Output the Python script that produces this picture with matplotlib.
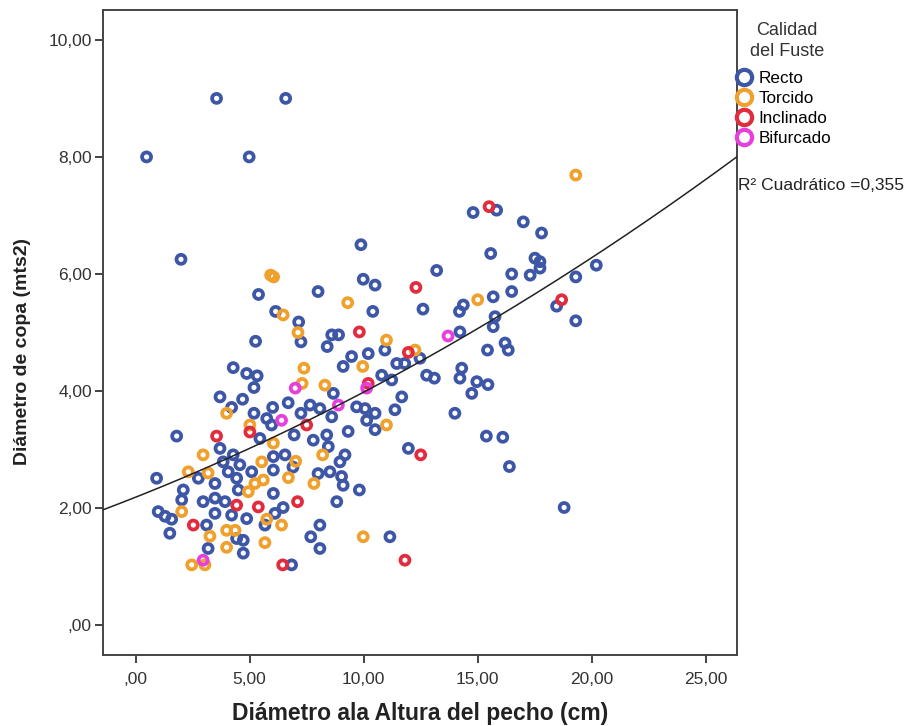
import numpy as np
import matplotlib
matplotlib.use("Agg")
import matplotlib.pyplot as plt
from matplotlib.lines import Line2D
from matplotlib.ticker import FuncFormatter

plt.rcParams["font.family"] = ["Liberation Sans", "DejaVu Sans"]

# Calidad del Fuste -> (DAP cm, diametro de copa)
recto_x = [3.55, 6.58, 0.48, 4.98, 1.99, 5.39, 6.14, 7.15, 7.25, 5.26, 4.28, 4.87, 5.33, 5.19,
           3.70, 4.69, 4.21, 5.19, 6.01, 6.69, 5.75, 7.25, 1.80, 5.96, 5.45, 6.95, 3.70, 4.28,
           3.84, 4.57, 6.04, 6.55, 0.92, 2.75, 3.48, 4.06, 4.43, 5.09, 6.04, 6.90, 2.09, 4.50,
           6.04, 2.02, 2.96, 3.48, 3.92, 0.99, 1.29, 1.58, 3.48, 4.21, 4.87, 6.11, 6.47, 1.50,
           3.11, 4.43, 4.72, 5.67, 3.18, 4.72, 6.84,
           9.88, 15.57, 13.20, 9.98, 10.50, 8.00, 10.40, 12.60, 14.37, 14.20, 8.60, 8.90, 8.40,
           10.93, 10.20, 9.47, 9.10, 12.47, 11.45, 11.80, 14.22, 15.43, 8.67, 10.79, 11.23,
           11.67, 12.76, 13.10, 14.30, 14.22, 14.96, 15.45, 14.74, 9.69, 10.06, 10.50, 11.37,
           10.13, 10.50, 14.00, 7.65, 8.08, 8.60, 9.32, 8.38, 15.38,
           7.79, 8.45, 9.18, 8.96, 11.96, 8.00, 8.52, 9.03, 9.10, 9.81, 8.82, 8.08, 7.68, 8.08,
           11.15,
           15.83, 17.00, 17.80, 17.51, 17.73, 17.73, 17.30, 16.49, 20.20, 19.30, 16.49, 15.68,
           18.46, 15.76, 15.68, 19.30, 16.20, 16.34, 14.80, 16.10, 16.39, 18.79]
recto_y = [9.00, 9.00, 8.00, 8.00, 6.25, 5.65, 5.36, 5.18, 4.84, 4.85, 4.40, 4.30, 4.26, 4.06,
           3.90, 3.86, 3.72, 3.62, 3.72, 3.80, 3.53, 3.62, 3.23, 3.42, 3.19, 3.25, 3.02, 2.91,
           2.79, 2.74, 2.88, 2.91, 2.51, 2.51, 2.42, 2.62, 2.51, 2.62, 2.65, 2.70, 2.31, 2.31,
           2.25, 2.14, 2.11, 2.17, 2.11, 1.94, 1.86, 1.81, 1.91, 1.88, 1.82, 1.91, 2.01, 1.57,
           1.71, 1.48, 1.45, 1.71, 1.31, 1.23, 1.03,
           6.50, 6.35, 6.06, 5.91, 5.81, 5.70, 5.36, 5.40, 5.47, 5.36, 4.96, 4.96, 4.76,
           4.70, 4.64, 4.59, 4.42, 4.56, 4.47, 4.47, 5.01, 4.70, 3.96, 4.27, 4.19,
           3.90, 4.27, 4.22, 4.39, 4.22, 4.16, 4.11, 3.96, 3.73, 3.70, 3.62, 3.68,
           3.50, 3.34, 3.62, 3.76, 3.70, 3.56, 3.31, 3.25, 3.23,
           3.16, 3.05, 2.91, 2.79, 3.02, 2.59, 2.62, 2.54, 2.39, 2.31, 2.11, 1.71, 1.51, 1.31,
           1.51,
           7.09, 6.89, 6.70, 6.27, 6.21, 6.10, 5.98, 6.00, 6.15, 5.95, 5.70, 5.61,
           5.45, 5.27, 5.10, 5.20, 4.82, 4.70, 7.05, 3.21, 2.71, 2.01]

torcido_x = [5.92, 6.05, 6.47, 7.12, 3.99, 5.01, 7.30, 6.04, 2.96, 5.53, 7.02, 2.31, 3.18, 5.23,
             5.60, 6.70, 4.94, 2.02, 5.75, 3.26, 3.99, 4.36, 6.40, 3.99, 5.67, 2.46, 3.04,
             9.30, 15.00, 11.00, 9.96, 12.25, 7.38, 8.30, 11.00, 8.20, 7.82, 9.98, 19.30]
torcido_y = [5.98, 5.95, 5.30, 5.00, 3.62, 3.42, 4.13, 3.11, 2.91, 2.79, 2.80, 2.62, 2.60, 2.42,
             2.48, 2.52, 2.28, 1.94, 1.81, 1.52, 1.62, 1.62, 1.71, 1.33, 1.41, 1.03, 1.03,
             5.51, 5.56, 4.87, 4.42, 4.70, 4.39, 4.10, 3.42, 2.91, 2.42, 1.51, 7.69]

inclinado_x = [3.55, 5.01, 4.43, 5.38, 7.10, 2.53, 6.45, 12.29, 9.81, 11.96, 10.20, 7.50,
               12.50, 11.81, 15.50, 18.68]
inclinado_y = [3.23, 3.30, 2.05, 2.02, 2.11, 1.71, 1.03, 5.77, 5.01, 4.66, 4.13, 3.42,
               2.91, 1.11, 7.15, 5.56]

bifurcado_x = [7.00, 6.40, 2.96, 13.70, 10.13, 8.89]
bifurcado_y = [4.05, 3.50, 1.11, 4.94, 4.05, 3.76]

groups = ["Recto", "Torcido", "Inclinado", "Bifurcado"]
colors = ["#3d57a6", "#f0a02c", "#e22b3c", "#e63fdc"]
series = [(recto_x, recto_y), (torcido_x, torcido_y),
          (inclinado_x, inclinado_y), (bifurcado_x, bifurcado_y)]

# quadratic fit as reported (c, b, a)
fit_coef = [0.00251, 0.1544, 2.186]
r2_label = "R² Cuadrático =0,355"

fig = plt.figure(figsize=(9.07, 7.26), dpi=100)
ax = fig.add_axes([103 / 907, 1 - 655 / 726, 634 / 907, 645 / 726])

for (xs, ys), c in zip(series, colors):
    ax.scatter(xs, ys, s=42, facecolors="none", edgecolors=c, linewidths=2.7, zorder=2)

xx = np.linspace(-1.43, 26.37, 200)
ax.plot(xx, np.polyval(fit_coef, xx), color="#222222", lw=1.1, zorder=3)

ax.set_xlim(-1.43, 26.37)
ax.set_ylim(-0.51, 10.51)
ax.set_xticks([0, 5, 10, 15, 20, 25])
ax.set_yticks([0, 2, 4, 6, 8, 10])
fmt = FuncFormatter(lambda v, p: ("%.2f" % v).replace(".", ",").lstrip("0") if v == 0
                    else ("%.2f" % v).replace(".", ","))
ax.xaxis.set_major_formatter(fmt)
ax.yaxis.set_major_formatter(fmt)
ax.tick_params(direction="out", length=6, width=1.3, colors="#333333", labelsize=12.5)
ax.tick_params(axis="x", pad=6)
ax.tick_params(axis="y", pad=2)
for sp in ax.spines.values():
    sp.set_color("#444444")
    sp.set_linewidth(1.4)

ax.set_xlabel("Diámetro ala Altura del pecho (cm)", fontsize=16.5, fontweight="bold",
              color="#222222")
ax.xaxis.set_label_coords(0.5, -0.073)
ax.set_ylabel("Diámetro de copa (mts2)", fontsize=14, fontweight="bold", color="#222222")
ax.yaxis.set_label_coords(-0.113, 0.47)

# legend (title drawn separately so its spacing can follow the reference)
fig.text(787 / 907, 1 - 22 / 726, "Calidad\ndel Fuste", fontsize=13, ha="center", va="top",
         linespacing=1.28, color="#333333")
handles = [Line2D([], [], ls="", marker="o", ms=11, mfc="none", mec=c, mew=3)
           for c in colors]
leg = ax.legend(handles, groups, loc="upper left",
                bbox_to_anchor=(738 / 907, 1 - 71 / 726), bbox_transform=fig.transFigure,
                frameon=False, fontsize=12.3, handlelength=0.75,
                handletextpad=0.45, labelspacing=0.3, borderpad=0, borderaxespad=0)

fig.text(738 / 907, 1 - 185 / 726, r2_label, fontsize=12.5, va="center", ha="left",
         color="#222222")

fig.savefig("out.png", dpi=100)
